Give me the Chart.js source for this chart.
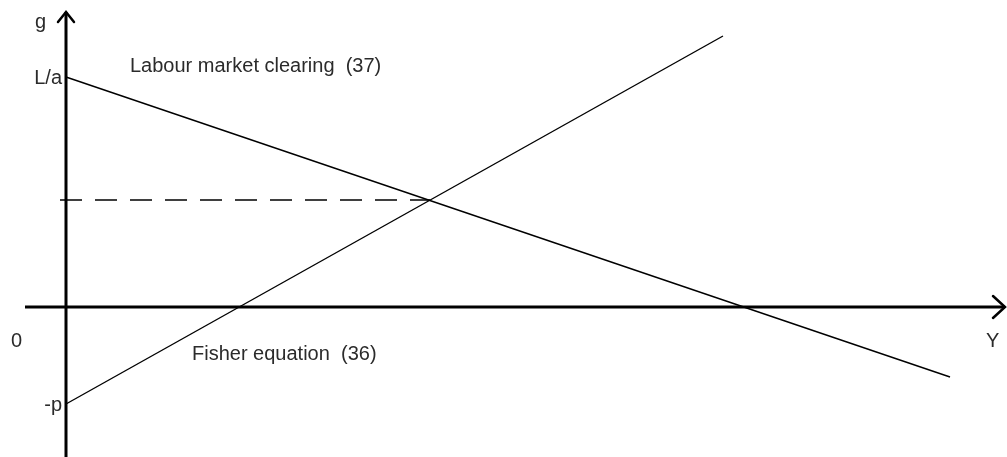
<!DOCTYPE html>
<html>
<head>
<meta charset="utf-8">
<script src="https://cdn.jsdelivr.net/npm/chart.js@4.4.1/dist/chart.umd.min.js"></script>
<style>
    html, body { margin: 0; padding: 0; background: #fff; }
    .wrap { position: relative; width: 1007px; height: 457px; }
</style>
</head>
<body>
<div class="wrap"><canvas id="diagram"></canvas></div>
<script>
// Ejes: el origen (0,0) es el cruce de los dos ejes
const axisXRange = [-41, 939];     // eje horizontal (Y)
const axisGRange = [-150, 295];    // eje vertical (g)

// Labour market clearing (37): recta decreciente desde L/a
const labourY = [0, 884];
const labourG = [230, -70];

// Fisher equation (36): recta creciente desde -p
const fisherY = [0, 657];
const fisherG = [-97, 271];

// Equilibrio (punto de corte) y la guia discontinua hasta el eje g
const equilibriumY = 364;
const equilibriumG = 107;
const guideStartY = -6;

// Etiquetas del eje g
const tickLabels = ['L/a', '-p'];
const tickValues = [230, -97];

const axisTitleX = 'Y';
const axisTitleG = 'g';
const originLabel = '0';
const curveLabels = ['Labour market clearing  (37)', 'Fisher equation  (36)'];

const toPoints = (xs, ys) => xs.map((x, i) => ({ x: x, y: ys[i] }));

const ink = '#000';
const textInk = '#2b2b2b';
const font = '20px "Liberation Sans", Arial, sans-serif';

// Flechas en los extremos de los ejes
const arrowHeads = {
    id: 'arrowHeads',
    afterDatasetsDraw(chart) {
        const { ctx, scales: { x, y } } = chart;
        const tipX = { px: x.getPixelForValue(axisXRange[1]), py: y.getPixelForValue(0) };
        const tipG = { px: x.getPixelForValue(0), py: y.getPixelForValue(axisGRange[1]) };
        ctx.save();
        ctx.strokeStyle = ink;
        ctx.lineWidth = 2.5;
        ctx.lineCap = 'round';
        ctx.lineJoin = 'miter';
        ctx.beginPath();
        ctx.moveTo(tipX.px - 12, tipX.py - 11);
        ctx.lineTo(tipX.px, tipX.py);
        ctx.lineTo(tipX.px - 12, tipX.py + 11);
        ctx.moveTo(tipG.px - 8, tipG.py + 10);
        ctx.lineTo(tipG.px, tipG.py);
        ctx.lineTo(tipG.px + 8, tipG.py + 10);
        ctx.stroke();
        ctx.restore();
    }
};

// Textos: etiquetas del eje, titulos y nombres de las curvas
const diagramText = {
    id: 'diagramText',
    afterDraw(chart) {
        const { ctx, scales: { x, y } } = chart;
        const ox = x.getPixelForValue(0);
        const oy = y.getPixelForValue(0);
        ctx.save();
        ctx.font = font;
        ctx.fillStyle = textInk;

        ctx.textAlign = 'right';
        ctx.textBaseline = 'middle';
        tickLabels.forEach((lbl, i) => {
            ctx.fillText(lbl, ox - 4, y.getPixelForValue(tickValues[i]) + 1);
        });

        ctx.textAlign = 'left';
        ctx.textBaseline = 'alphabetic';
        ctx.fillText(originLabel, ox - 55, oy + 40);
        ctx.fillText(axisTitleG, ox - 31, y.getPixelForValue(axisGRange[1]) + 16);
        ctx.fillText(axisTitleX, x.getPixelForValue(axisXRange[1]) - 19, oy + 40);

        ctx.fillText(curveLabels[0], x.getPixelForValue(64), y.getPixelForValue(235));
        ctx.fillText(curveLabels[1], x.getPixelForValue(126), y.getPixelForValue(-53));
        ctx.restore();
    }
};

const lineStyle = {
    showLine: true,
    pointRadius: 0,
    pointHoverRadius: 0,
    borderColor: ink,
    fill: false,
    clip: false
};

new Chart(document.getElementById('diagram'), {
    type: 'scatter',
    data: {
        datasets: [
            { ...lineStyle, data: toPoints(axisXRange, [0, 0]), borderWidth: 3 },
            { ...lineStyle, data: toPoints([0, 0], axisGRange), borderWidth: 3 },
            { ...lineStyle, data: toPoints(labourY, labourG), borderWidth: 1.4 },
            { ...lineStyle, data: toPoints(fisherY, fisherG), borderWidth: 1.4 },
            {
                ...lineStyle,
                data: toPoints([guideStartY, equilibriumY], [equilibriumG, equilibriumG]),
                borderWidth: 1.6,
                borderDash: [22, 13]
            }
        ]
    },
    options: {
        responsive: true,
        maintainAspectRatio: false,
        animation: false,
        events: [],
        layout: { padding: 0 },
        plugins: {
            legend: { display: false },
            tooltip: { enabled: false }
        },
        scales: {
            x: { type: 'linear', display: false, min: -66, max: 941 },
            y: { type: 'linear', display: false, min: -150, max: 307 }
        }
    },
    plugins: [arrowHeads, diagramText]
});
</script>
</body>
</html>
